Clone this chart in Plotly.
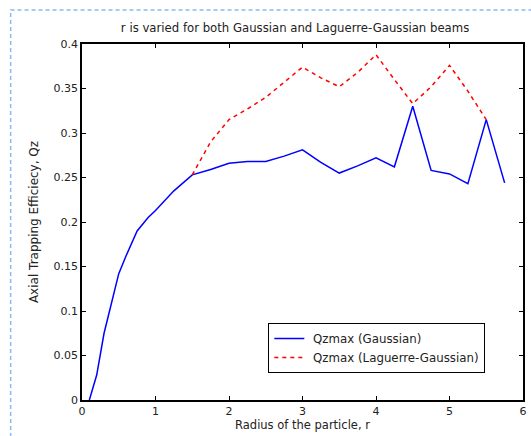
import plotly.graph_objects as go

# Gaussian beam
r_gauss = [0.1, 0.2, 0.3, 0.4, 0.5, 0.6, 0.75, 0.9, 1.0, 1.25, 1.5, 1.75, 2.0, 2.25, 2.5,
           2.75, 3.0, 3.25, 3.5, 3.75, 4.0, 4.25, 4.5, 4.75, 5.0, 5.25, 5.5, 5.75]
qz_gauss = [0.0, 0.028, 0.075, 0.11, 0.142, 0.162, 0.19, 0.205, 0.213, 0.235, 0.253, 0.259,
            0.266, 0.268, 0.268, 0.274, 0.281, 0.267, 0.255, 0.263, 0.272, 0.262, 0.33,
            0.258, 0.254, 0.243, 0.315, 0.244]

# Laguerre-Gaussian beam
r_lg = [1.5, 1.75, 2.0, 2.25, 2.5, 2.75, 3.0, 3.25, 3.5, 3.75, 4.0, 4.25, 4.5, 4.75, 5.0, 5.25, 5.5]
qz_lg = [0.253, 0.29, 0.315, 0.327, 0.34, 0.357, 0.374, 0.362, 0.352, 0.368, 0.388, 0.36,
         0.333, 0.352, 0.376, 0.347, 0.315]

x_ticks = [0, 1, 2, 3, 4, 5, 6]
y_ticks = [0, 0.05, 0.1, 0.15, 0.2, 0.25, 0.3, 0.35, 0.4]
y_tick_labels = ["0", "0.05", "0.1", "0.15", "0.2", "0.25", "0.3", "0.35", "0.4"]

FAM = "DejaVu Sans, Verdana, sans-serif"
TXT = "#222222"

fig = go.Figure()
fig.add_trace(go.Scatter(x=r_gauss, y=qz_gauss, mode="lines", name=" Qzmax (Gaussian)",
                         line=dict(color="#0000ff", width=1.5)))
fig.add_trace(go.Scatter(x=r_lg, y=qz_lg, mode="lines", name=" Qzmax (Laguerre-Gaussian)",
                         line=dict(color="#ff0000", width=1.5, dash="4px,4px")))

fig.update_layout(
    width=531, height=436,
    margin=dict(l=82, r=4, t=44, b=36),
    paper_bgcolor="white", plot_bgcolor="white",
    font=dict(family=FAM, size=11, color=TXT),
    showlegend=True,
    title=dict(text="r is varied for both Gaussian and Laguerre-Gaussian beams",
               xref="paper", x=(297 - 82) / 445, xanchor="center", y=0.935, yanchor="middle",
               font=dict(family=FAM, size=11.7, color=TXT)),
    legend=dict(x=0.4225, y=0.216, xanchor="left", yanchor="top",
                bordercolor="black", borderwidth=1, bgcolor="white",
                font=dict(family=FAM, size=11.8, color=TXT),
                tracegroupgap=0, itemwidth=30),
    xaxis=dict(range=[0, 6], tickvals=x_ticks, ticks="inside", ticklen=4, tickcolor="black",
               showline=True, linecolor="black", linewidth=1.5, mirror="allticks",
               showgrid=False, zeroline=False,
               tickfont=dict(family=FAM, size=11, color=TXT),
               title=dict(text="Radius of the particle, r", standoff=3,
                          font=dict(family=FAM, size=11.5, color=TXT))),
    yaxis=dict(range=[0, 0.4], tickvals=y_ticks, ticktext=y_tick_labels, ticks="inside",
               ticklen=4, tickcolor="black",
               showline=True, linecolor="black", linewidth=1.5, mirror="allticks",
               showgrid=False, zeroline=False,
               tickfont=dict(family=FAM, size=11, color=TXT),
               title=dict(text="Axial Trapping Efficiecy, Qz", standoff=12,
                          font=dict(family=FAM, size=12, color=TXT))),
    shapes=[dict(type="rect", xref="paper", yref="paper",
                 x0=(10 - 82) / 445, x1=1.2, y0=-0.3, y1=(400 - 10) / 356,
                 line=dict(color="#8ab8f0", width=1.5, dash="4px,3px"),
                 fillcolor="rgba(0,0,0,0)", layer="below")],
)

fig.write_html("out.html")
